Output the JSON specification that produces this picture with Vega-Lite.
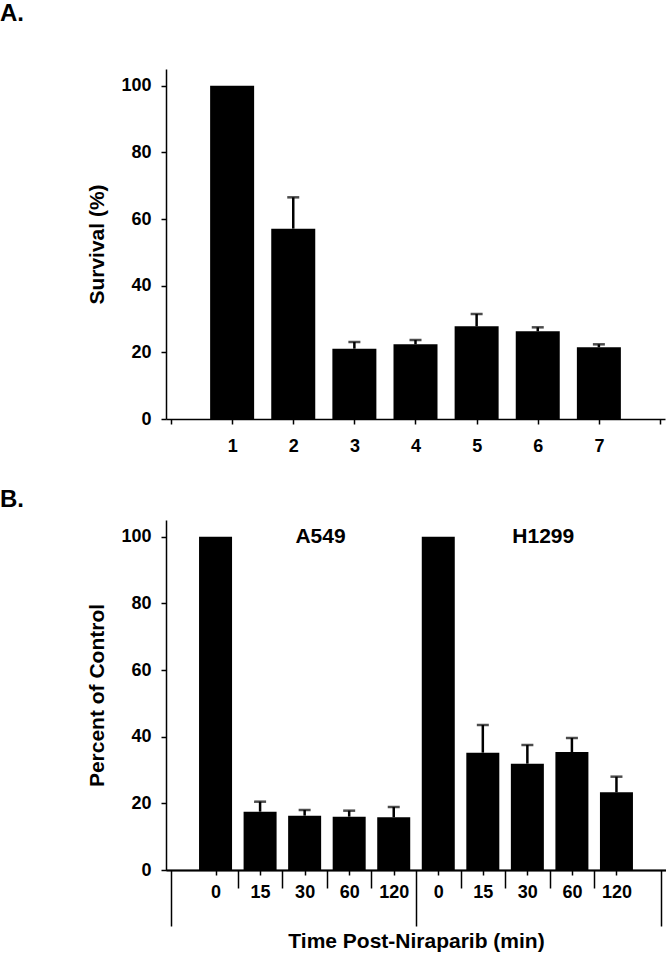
{
  "$schema": "https://vega.github.io/schema/vega-lite/v6.json",
  "padding": {"left": 0, "top": 2, "right": 0, "bottom": 0},
  "spacing": 33,
  "config": {
    "view": {"stroke": null},
    "font": "Liberation Sans",
    "axis": {
      "domainColor": "black", "domainWidth": 1.5,
      "tickColor": "black", "tickWidth": 1.5,
      "labelColor": "black", "titleColor": "black",
      "labelFont": "Liberation Sans", "titleFont": "Liberation Sans",
      "labelFontWeight": "bold", "titleFontWeight": "bold",
      "labelFontSize": 18, "titleFontSize": 21, "grid": false
    },
    "title": {"font": "Liberation Sans", "fontWeight": "bold", "fontSize": 24, "color": "black", "anchor": "start", "frame": "group"}
  },
  "datasets": {
    "a": [
      {"sample": 1, "survival": 100, "upper": null},
      {"sample": 2, "survival": 57.1, "upper": 66.5},
      {"sample": 3, "survival": 21.1, "upper": 23.1},
      {"sample": 4, "survival": 22.4, "upper": 23.7},
      {"sample": 5, "survival": 27.8, "upper": 31.5},
      {"sample": 6, "survival": 26.3, "upper": 27.5},
      {"sample": 7, "survival": 21.5, "upper": 22.4}
    ],
    "b": [
      {"cell": "A549", "time": "0", "pos": 1, "percent": 100, "upper": null},
      {"cell": "A549", "time": "15", "pos": 2, "percent": 17.5, "upper": 20.5},
      {"cell": "A549", "time": "30", "pos": 3, "percent": 16.3, "upper": 18.0},
      {"cell": "A549", "time": "60", "pos": 4, "percent": 16.0, "upper": 17.8},
      {"cell": "A549", "time": "120", "pos": 5, "percent": 15.8, "upper": 18.9},
      {"cell": "H1299", "time": "0", "pos": 6, "percent": 100, "upper": null},
      {"cell": "H1299", "time": "15", "pos": 7, "percent": 35.2, "upper": 43.5},
      {"cell": "H1299", "time": "30", "pos": 8, "percent": 31.9, "upper": 37.5},
      {"cell": "H1299", "time": "60", "pos": 9, "percent": 35.4, "upper": 39.6},
      {"cell": "H1299", "time": "120", "pos": 10, "percent": 23.3, "upper": 28.0}
    ]
  },
  "vconcat": [
    {
      "title": {"text": "A.", "dx": -166, "offset": 43},
      "width": 499,
      "height": 350,
      "data": {"name": "a"},
      "layer": [
        {
          "mark": {"type": "bar", "color": "black", "size": 44},
          "encoding": {
            "x": {"field": "sample", "type": "quantitative", "scale": {"domain": [0, 8], "nice": false, "zero": false},
              "axis": {"values": [0, 1, 2, 3, 4, 5, 6, 7, 8], "format": "d", "labelExpr": "datum.value >= 1 && datum.value <= 7 ? datum.label : ''", "tickSize": 5, "labelPadding": 13, "labelFlush": false, "labelOverlap": false, "title": null}},
            "y": {"field": "survival", "type": "quantitative", "scale": {"domain": [0, 105], "nice": false},
              "axis": {"values": [0, 20, 40, 60, 80, 100], "title": "Survival (%)", "tickSize": 5, "labelPadding": 10, "titlePadding": 13}}
          }
        },
        {
          "transform": [{"filter": "datum.upper != null"}],
          "mark": {"type": "rule", "color": "black", "strokeWidth": 2.5},
          "encoding": {
            "x": {"field": "sample", "type": "quantitative"},
            "y": {"field": "survival", "type": "quantitative"},
            "y2": {"field": "upper"}
          }
        },
        {
          "transform": [{"filter": "datum.upper != null"}],
          "mark": {"type": "tick", "color": "black", "orient": "horizontal", "size": 12, "thickness": 2.5},
          "encoding": {
            "x": {"field": "sample", "type": "quantitative"},
            "y": {"field": "upper", "type": "quantitative"}
          }
        }
      ]
    },
    {
      "title": {"text": "B.", "dx": -166, "offset": 8},
      "width": 500,
      "height": 350,
      "data": {"name": "b"},
      "resolve": {"axis": {"x": "independent"}},
      "layer": [
        {
          "mark": {"type": "bar", "color": "black", "size": 33},
          "encoding": {
            "x": {"field": "pos", "type": "quantitative", "scale": {"domain": [0, 11], "nice": false, "zero": false},
              "axis": {
                "orient": "bottom",
                "values": [1, 2, 3, 4, 5, 6, 7, 8, 9, 10],
                "labelExpr": "(datum.value == 1 || datum.value == 6) ? '0' : (datum.value == 2 || datum.value == 7) ? '15' : (datum.value == 3 || datum.value == 8) ? '30' : (datum.value == 4 || datum.value == 9) ? '60' : '120'",
                "tickSize": 5, "labelPadding": 8, "labelFlush": false, "labelOverlap": false,
                "title": null
              }},
            "y": {"field": "percent", "type": "quantitative", "scale": {"domain": [0, 105], "nice": false},
              "axis": {"values": [0, 20, 40, 60, 80, 100], "title": "Percent of Control", "tickSize": 5, "labelPadding": 10, "titlePadding": 13}}
          }
        },
        {
          "transform": [{"filter": "datum.upper != null"}],
          "mark": {"type": "rule", "color": "black", "strokeWidth": 2.5},
          "encoding": {
            "x": {"field": "pos", "type": "quantitative",
              "axis": {"orient": "bottom", "values": [1.5, 2.5, 3.5, 4.5, 6.5, 7.5, 8.5, 9.5], "tickSize": 18, "labels": false, "title": null}},
            "y": {"field": "percent", "type": "quantitative"},
            "y2": {"field": "upper"}
          }
        },
        {
          "transform": [{"filter": "datum.upper != null"}],
          "mark": {"type": "tick", "color": "black", "orient": "horizontal", "size": 12, "thickness": 2.5},
          "encoding": {
            "x": {"field": "pos", "type": "quantitative",
              "axis": {"orient": "bottom", "values": [0, 5.5, 11], "tickSize": 56, "labels": false, "title": "Time Post-Niraparib (min)", "titlePadding": 4}},
            "y": {"field": "upper", "type": "quantitative"}
          }
        },
        {
          "transform": [{"filter": "datum.time == '0'"}],
          "mark": {"type": "text", "font": "Liberation Sans", "fontWeight": "bold", "fontSize": 21, "color": "black", "align": "center", "baseline": "middle", "dx": 105},
          "encoding": {
            "x": {"field": "pos", "type": "quantitative", "axis": null},
            "y": {"datum": 100, "type": "quantitative"},
            "text": {"field": "cell"}
          }
        }
      ]
    }
  ]
}
